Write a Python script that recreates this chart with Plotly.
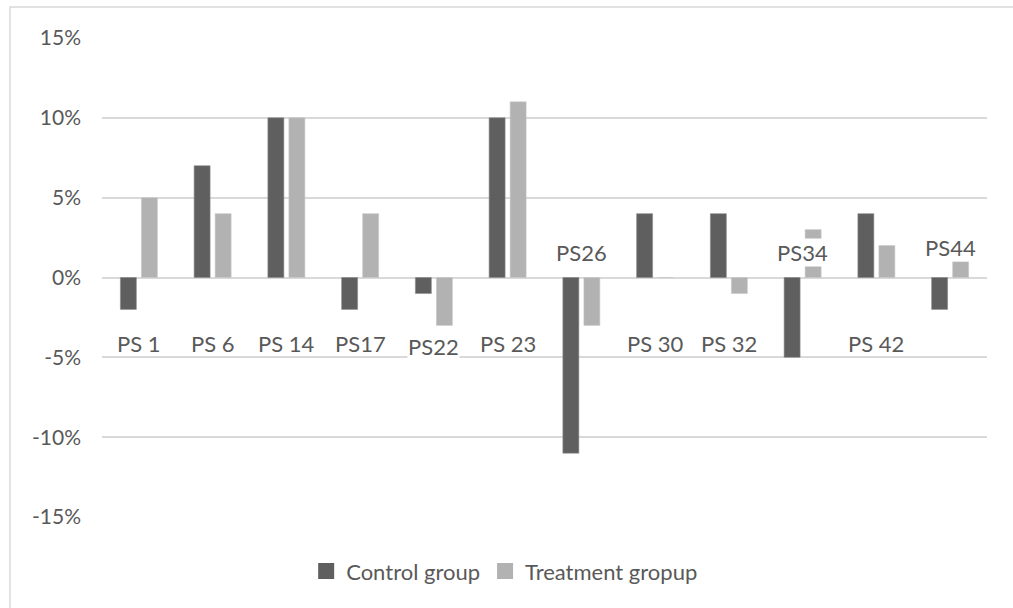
import plotly.graph_objects as go

# Per-site change in the two groups
sites = ["PS 1", "PS 6", "PS 14", "PS17", "PS22", "PS 23",
         "PS26", "PS 30", "PS 32", "PS34", "PS 42", "PS44"]
control = [-0.02, 0.07, 0.10, -0.02, -0.01, 0.10,
           -0.11, 0.04, 0.04, -0.05, 0.04, -0.02]
treatment = [0.05, 0.04, 0.10, 0.04, -0.03, 0.11,
             -0.03, 0.0, -0.01, 0.03, 0.02, 0.01]
y_ticks = [-0.15, -0.10, -0.05, 0.0, 0.05, 0.10, 0.15]

FONT = "Lato"
TXT = "#595959"
GRID = "#d9d9d9"
C_CTRL = "#5f5f5f"
C_TREAT = "#b2b2b2"

fig = go.Figure()
fig.add_trace(go.Bar(
    x=sites, y=control, name="Control group", showlegend=False,
    marker=dict(color=C_CTRL, line=dict(color="#8a8a8a", width=0.6)),
))
fig.add_trace(go.Bar(
    x=sites, y=treatment, name="Treatment gropup", showlegend=False,
    marker=dict(color=C_TREAT, line=dict(color="#c8c8c8", width=0.6)),
))
# Square swatches for the legend
for name, col in [("Control group", C_CTRL), ("Treatment gropup", C_TREAT)]:
    fig.add_trace(go.Scatter(
        x=[None], y=[None], mode="markers", name=name,
        marker=dict(symbol="square", size=17, color=col),
    ))

# Site labels sit low in the plot, a few are lifted above the zero line;
# some of the label boxes are opaque and hide what lies beneath them
label_y = {"PS26": 0.0155, "PS34": 0.0155, "PS44": 0.0185, "PS22": -0.0435}
opaque = {"PS22", "PS34", "PS44"}
for s in sites:
    fig.add_annotation(
        x=s, y=label_y.get(s, -0.0415),
        text=s, showarrow=False, xanchor="center", yanchor="middle",
        bgcolor="white" if s in opaque else "rgba(0,0,0,0)", borderpad=0,
        font=dict(family=FONT, size=22, color=TXT),
    )

# Light frame around the whole chart
fig.add_shape(type="rect", xref="paper", yref="paper",
              x0=-0.104, x1=1.2, y0=-0.5, y1=1.0647,
              line=dict(color=GRID, width=1.5), fillcolor="rgba(0,0,0,0)",
              layer="below")

fig.update_layout(
    width=1013, height=608,
    margin=dict(l=102, r=26, t=38, b=91),
    paper_bgcolor="white", plot_bgcolor="white",
    barmode="group", bargap=0.43, bargroupgap=0.24,
    font=dict(family=FONT, size=20, color=TXT),
    showlegend=True,
    legend=dict(orientation="h", x=0.455, xanchor="center",
                y=-0.113, yanchor="middle",
                font=dict(family=FONT, size=22, color=TXT),
                itemwidth=30),
    xaxis=dict(showticklabels=False, showgrid=False, zeroline=False,
               showline=False, ticks=""),
    yaxis=dict(range=[-0.15, 0.15], tickvals=y_ticks,
               ticktext=[f"{v:.0%}" for v in y_ticks],
               showgrid=True, gridcolor=GRID, gridwidth=1.5,
               zeroline=True, zerolinecolor=GRID, zerolinewidth=1.5,
               showline=False, ticks="", ticklabelstandoff=20,
               tickfont=dict(family=FONT, size=21, color=TXT)),
)

fig.write_html("out.html")
